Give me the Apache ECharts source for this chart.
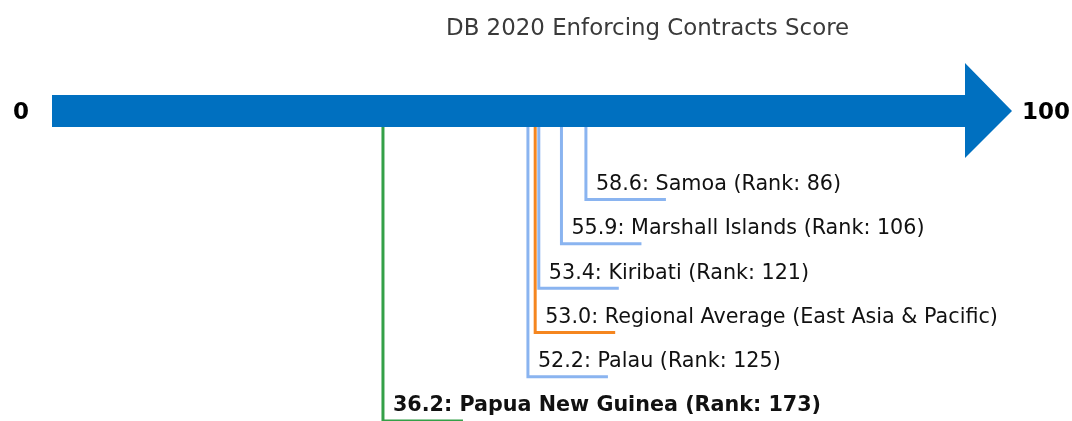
<!DOCTYPE html>
<html>
<head>
<meta charset="utf-8">
<script src="https://cdn.jsdelivr.net/npm/echarts@6/dist/echarts.min.js"></script>
<style>
html,body{margin:0;padding:0;background:#fff;}
#chart{width:1072px;height:421px;}
</style>
</head>
<body>
<div id="chart"></div>
<script>
// scores, top label first
var names = ['Samoa (Rank: 86)', 'Marshall Islands (Rank: 106)', 'Kiribati (Rank: 121)',
  'Regional Average (East Asia & Pacific)', 'Palau (Rank: 125)', 'Papua New Guinea (Rank: 173)'];
var scores = [58.6, 55.9, 53.4, 53.0, 52.2, 36.2];
var kinds = ['peer', 'peer', 'peer', 'region', 'peer', 'focus'];
var endLabels = ['0', '100'];
var scoreRange = [0, 100];

var kindColor = {peer: '#8ab4f0', region: '#f5861f', focus: '#34a048'};
var font = 'DejaVu Sans';

var leaderData = [];
for (var i = 0; i < scores.length; i++) {
  leaderData.push([scores[i], i + 1, names[i], kinds[i]]);
}

var myChart = echarts.init(document.getElementById('chart'));
myChart.setOption({
  animation: false,
  title: {
    text: 'DB 2020 Enforcing Contracts Score',
    left: 441, top: 13,
    textStyle: {fontFamily: font, fontSize: 22.9, fontWeight: 'normal', color: '#3a3a3a'}
  },
  grid: {left: 55, width: 906, top: 111, height: 310},
  xAxis: {type: 'value', min: scoreRange[0], max: scoreRange[1], show: false},
  yAxis: {type: 'value', min: -1, max: 6, inverse: true, show: false},
  series: [
    {
      // the big arrow
      type: 'custom',
      clip: false,
      data: [[scoreRange[0], scoreRange[1]]],
      renderItem: function (params, api) {
        var a = api.coord([api.value(0), -1]);
        var b = api.coord([api.value(1), -1]);
        var y = a[1];
        var x0 = a[0] - 3, x1 = b[0] + 4;
        return {
          type: 'group',
          children: [
            {type: 'polygon', shape: {points: [
              [x0, y - 16], [x1, y - 16], [x1, y - 48], [x1 + 47, y],
              [x1, y + 47], [x1, y + 16], [x0, y + 16]
            ]}, style: {fill: '#0070c0'}},
            {type: 'text', x: a[0] - 34, y: y + 2, style: {text: endLabels[0], fontFamily: font,
              fontSize: 23, fontWeight: 'bold', fill: '#000', align: 'center', verticalAlign: 'middle'}},
            {type: 'text', x: x1 + 57, y: y + 2, style: {text: endLabels[1], fontFamily: font,
              fontSize: 23, fontWeight: 'bold', fill: '#000', align: 'left', verticalAlign: 'middle'}}
          ]
        };
      }
    },
    {
      // leader lines + labels
      type: 'custom',
      clip: false,
      z: 1,
      data: leaderData,
      renderItem: function (params, api) {
        var d = leaderData[params.dataIndex];
        var top = api.coord([d[0], -1]);
        var p = api.coord([d[0], d[1]]);
        var c = kindColor[d[3]];
        return {
          type: 'group',
          children: [
            {type: 'polyline', shape: {points: [[p[0], top[1] + 16], [p[0], p[1]], [p[0] + 80, p[1]]]},
              style: {stroke: c, lineWidth: 3, fill: null}},
            {type: 'text', x: p[0] + 10, y: p[1] - 15, style: {
              text: d[0].toFixed(1) + ': ' + d[2], fontFamily: font, fontSize: 20.7,
              fontWeight: d[3] == 'focus' ? 'bold' : 'normal', fill: '#111',
              align: 'left', verticalAlign: 'middle'}}
          ]
        };
      }
    }
  ]
});
</script>
</body>
</html>
